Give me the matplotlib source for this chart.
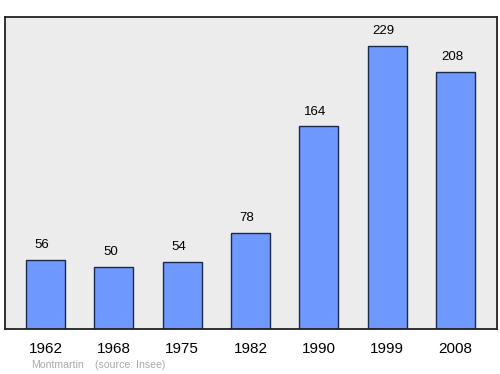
import matplotlib
matplotlib.use("Agg")
import matplotlib.pyplot as plt

years = ["1962", "1968", "1975", "1982", "1990", "1999", "2008"]
population = [56, 50, 54, 78, 164, 229, 208]

plt.rcParams['font.family'] = ['Liberation Sans', 'DejaVu Sans']

fig = plt.figure(figsize=(5, 3.74), dpi=100)
ax = fig.add_axes([0.01, 0.1203, 0.984, 0.834])
ax.set_facecolor('#ececec')

x = range(len(years))
ax.bar(x, population, width=0.571, color='#7099ff', edgecolor='#1a2a4a', linewidth=1.0)

# value labels sit a little left of the bar centre, like the original
for i, v in zip(x, population):
    ax.text(i - 0.05, v + 12, str(v), ha='center', va='center', fontsize=9.5, color='black')

ax.set_xlim(-0.593, 6.607)
ax.set_ylim(0, 252.4)
ax.set_yticks([])
ax.set_xticks(list(x))
ax.set_xticklabels(years, fontsize=11)
ax.tick_params(axis='x', length=0, pad=9)
for s in ax.spines.values():
    s.set_linewidth(1.3)
    s.set_color('#222222')

fig.text(0.062, 0.024, "Montmartin", fontsize=7.6, color='#aaaaaa', ha='left', va='center')
fig.text(0.19, 0.024, "(source: Insee)", fontsize=7.6, color='#aaaaaa', ha='left', va='center')

fig.savefig('out.png', dpi=100)
